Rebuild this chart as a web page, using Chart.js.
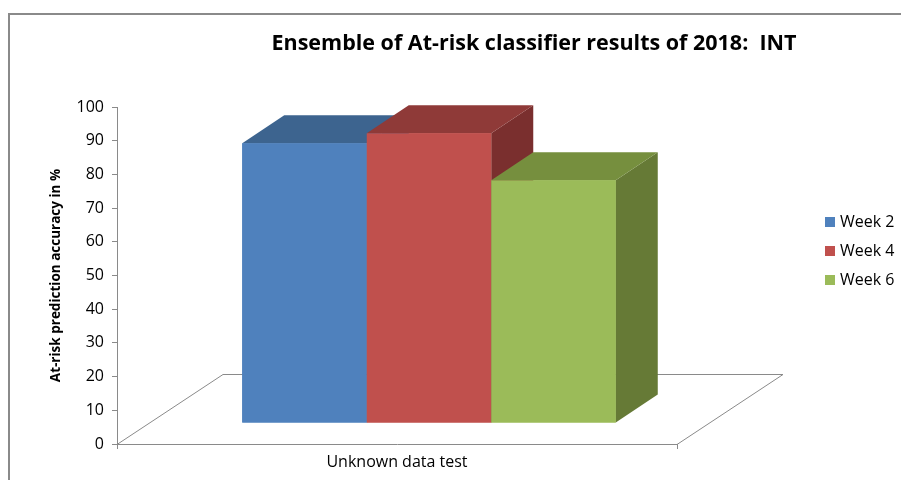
<!DOCTYPE html>
<html>
<head>
<meta charset="utf-8">
<script src="https://cdn.jsdelivr.net/npm/chart.js@4"></script>
<style>
  body { margin: 0; background: #fff; }
  #wrap { width: 901px; height: 480px; position: relative; }
</style>
</head>
<body>
<div id="wrap"><canvas id="stage"></canvas></div>
<script>
// chart data
const categories = ['Unknown data test'];
const seriesNames = ['Week 2', 'Week 4', 'Week 6'];
const week2 = [83];
const week4 = [86];
const week6 = [72];
const yMin = 0;
const yMax = 100;
const yStep = 10;
const chartTitle = 'Ensemble of At-risk classifier results of 2018:  INT';
const yTitle = 'At-risk prediction accuracy in %';

// look of the 3d boxes (front, top, side)
const front = ['#4f81bd', '#c0504d', '#9bbb59'];
const top_ = ['#3d648f', '#8f3a38', '#768f3e'];
const side = ['#375a82', '#7a2f2e', '#667a36'];
const boxDepth = { dx: 42, dy: -28 };
const floorDepth = { dx: 106, dy: -70 };
const barShift = { dx: 32, dy: -21 };
const lineGray = '#8a8a8a';
const fontFam = '"Open Sans", "Liberation Sans", sans-serif';

const box3d = {
  id: 'box3d',
  beforeDraw(chart) {
    const ctx = chart.ctx;
    ctx.save();
    ctx.strokeStyle = lineGray;
    ctx.lineWidth = 2;
    ctx.strokeRect(9, 14, 1200, 1200);
    ctx.restore();
  },
  beforeDatasetsDraw(chart) {
    const ctx = chart.ctx;
    const a = chart.chartArea;
    const y0 = chart.scales.y.getPixelForValue(0);
    // floor
    ctx.save();
    ctx.strokeStyle = lineGray;
    ctx.lineWidth = 1;
    ctx.beginPath();
    ctx.moveTo(a.left, y0 + 0.5);
    ctx.lineTo(a.left + floorDepth.dx, y0 + floorDepth.dy + 0.5);
    ctx.lineTo(a.right + floorDepth.dx, y0 + floorDepth.dy + 0.5);
    ctx.lineTo(a.right, y0 + 0.5);
    ctx.stroke();
    ctx.restore();
    ctx.save();
    ctx.translate(barShift.dx, barShift.dy);
  },
  afterDatasetsDraw(chart) {
    const ctx = chart.ctx;
    chart.data.datasets.forEach((ds, i) => {
      const meta = chart.getDatasetMeta(i);
      meta.data.forEach(bar => {
        const l = bar.x - bar.width / 2, r = bar.x + bar.width / 2;
        const t = bar.y, b = bar.base;
        ctx.fillStyle = side[i];
        ctx.beginPath();
        ctx.moveTo(r, t);
        ctx.lineTo(r + boxDepth.dx, t + boxDepth.dy);
        ctx.lineTo(r + boxDepth.dx, b + boxDepth.dy);
        ctx.lineTo(r, b);
        ctx.closePath();
        ctx.fill();
        ctx.fillStyle = top_[i];
        ctx.beginPath();
        ctx.moveTo(l, t);
        ctx.lineTo(l + boxDepth.dx, t + boxDepth.dy);
        ctx.lineTo(r + boxDepth.dx, t + boxDepth.dy);
        ctx.lineTo(r, t);
        ctx.closePath();
        ctx.fill();
        bar.draw(ctx);
      });
    });
    ctx.restore();
  },
  afterDraw(chart) {
    const ctx = chart.ctx;
    ctx.save();
    ctx.fillStyle = '#000';
    ctx.textAlign = 'center';
    ctx.textBaseline = 'middle';
    ctx.font = 'bold 21.5px ' + fontFam;
    ctx.fillText(chartTitle, 534, 44);
    // legend
    ctx.font = '16px ' + fontFam;
    ctx.textAlign = 'left';
    chart.data.datasets.forEach((ds, i) => {
      const yy = 222 + i * 29;
      ctx.fillStyle = ds.backgroundColor;
      ctx.fillRect(825, yy - 5, 10, 10);
      ctx.fillStyle = '#000';
      ctx.fillText(ds.label, 840, yy);
    });
    ctx.restore();
  }
};

const values = [week2, week4, week6];

new Chart(document.getElementById('stage'), {
  type: 'bar',
  data: {
    labels: categories,
    datasets: seriesNames.map((name, i) => ({
      label: name,
      data: values[i],
      backgroundColor: front[i],
      borderWidth: 0,
      categoryPercentage: 0.667,
      barPercentage: 1,
      clip: false
    }))
  },
  options: {
    responsive: true,
    maintainAspectRatio: false,
    animation: false,
    events: [],
    layout: { padding: { top: 107, right: 224, bottom: 0, left: 0 } },
    plugins: {
      legend: { display: false },
      title: { display: false },
      tooltip: { enabled: false }
    },
    scales: {
      x: {
        grid: { drawOnChartArea: false, tickLength: 5, color: lineGray, offset: true },
        border: { color: lineGray },
        ticks: { font: { family: fontFam, size: 16 }, color: '#000', padding: 4 },
        afterFit(s) { s.height = 36; }
      },
      y: {
        min: yMin,
        max: yMax,
        ticks: { stepSize: yStep, font: { family: fontFam, size: 16 }, color: '#000', padding: 8 },
        grid: { drawOnChartArea: false, tickLength: 5, color: lineGray },
        border: { color: lineGray },
        title: {
          display: true,
          text: yTitle,
          font: { family: fontFam, size: 13.5, weight: 'bold' },
          color: '#000',
          padding: { top: 48, bottom: 0 }
        },
        afterFit(s) { s.width = 117; }
      }
    }
  },
  plugins: [box3d]
});
</script>
</body>
</html>
